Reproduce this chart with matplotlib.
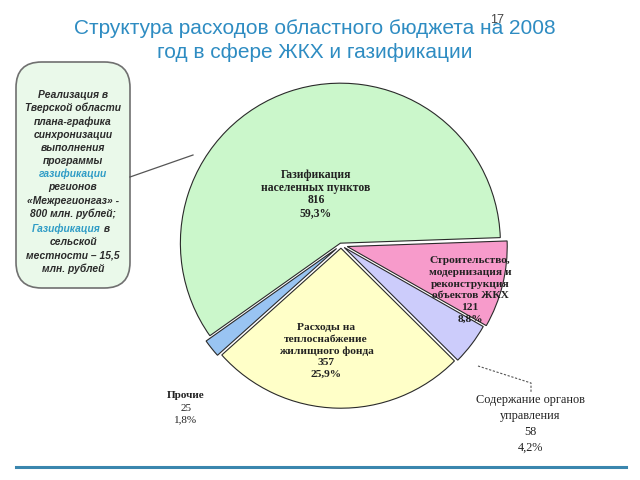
import matplotlib
matplotlib.use("Agg")
import matplotlib.pyplot as plt
from matplotlib.patches import FancyBboxPatch
from matplotlib.lines import Line2D

plt.rcParams["font.family"] = ["Liberation Sans", "DejaVu Sans"]

# budget structure, mln rubles, clockwise from 3 o'clock
categories = [
    "Строительство,\nмодернизация и\nреконструкция\nобъектов ЖКХ",
    "Содержание органов\nуправления",
    "Расходы на\nтеплоснабжение\nжилищного фонда",
    "Прочие",
    "Газификация\nнаселенных пунктов",
]
values = [121, 58, 357, 25, 816]
shares = ["8,8%", "4,2%", "25,9%", "1,8%", "59,3%"]
colors = ["#F79BCB", "#CCCCFB", "#FFFFC8", "#99C4F2", "#CBF7CB"]

W, H = 640, 480
fig = plt.figure(figsize=(6.4, 4.8), dpi=100)


def fx(x):
    return x / W


def fy(y):
    return 1 - y / H


# pie axes: center (341, 245) px, radius ~160 px
cx, cy, half = 341, 245, 200
ax = fig.add_axes([fx(cx - half), fy(cy + half), 2 * half / W, 2 * half / H])
ax.pie(values, colors=colors, startangle=2, counterclock=False,
       explode=[0.04, 0.025, 0.02, 0.035, 0.012], radius=1.0,
       wedgeprops=dict(edgecolor="#2a2a2a", linewidth=0.8))
ax.set_xlim(-1.25, 1.25)
ax.set_ylim(-1.25, 1.25)
ax.set_aspect("equal")
ax.axis("off")

serif = ["Liberation Serif", "DejaVu Serif"]
lab = "#222222"


def slice_label(i, x, y, bold=True, size=8.2, ls=1.2):
    txt = f"{categories[i]}\n{values[i]}\n{shares[i]}"
    fig.text(fx(x), fy(y), txt, ha="center", va="center", family=serif,
             fontsize=size, fontweight="bold" if bold else "normal",
             color=lab, linespacing=ls)


slice_label(4, 316, 194, size=8.4, ls=1.1)
slice_label(0, 470, 290, size=8.2, ls=1.38)
slice_label(2, 326, 351, size=8.2, ls=1.35)
fig.text(fx(186), fy(396), categories[3], ha="center", va="center",
         family=serif, fontsize=8, fontweight="bold", color=lab)
fig.text(fx(186), fy(414), f"{values[3]}\n{shares[3]}", ha="center",
         va="center", family=serif, fontsize=8, color=lab, linespacing=1.3)
slice_label(1, 530, 424, bold=False, size=8.8, ls=1.45)

# leader line for the small lavender slice
fig.add_artist(Line2D([fx(478), fx(531), fx(531)], [fy(366), fy(383), fy(393)],
                      color="#555555", linewidth=0.8, linestyle=(0, (2, 1.5))))

# title
title_col = "#2E8CC2"
fig.text(fx(315), fy(28), "Структура расходов областного бюджета на 2008",
         ha="center", va="center", fontsize=15, color=title_col)
fig.text(fx(315), fy(53), "год в сфере ЖКХ и газификации",
         ha="center", va="center", fontsize=15, color=title_col)
fig.text(fx(497), fy(20), "17", ha="center", va="center", fontsize=9,
         color="#444444")

# callout box on the left
box = FancyBboxPatch((fx(16), fy(288)), fx(114), 226 / H,
                     boxstyle="round,pad=0,rounding_size=0.04",
                     transform=fig.transFigure, facecolor="#EAF9EA",
                     edgecolor="#707070", linewidth=1.2, mutation_aspect=W / H)
fig.add_artist(box)
fig.add_artist(Line2D([fx(130), fx(193)], [fy(177), fy(155)],
                      color="#555555", linewidth=0.9))

box_lines = [
    ("Реализация в", "k"), ("Тверской области", "k"), ("плана-графика", "k"),
    ("синхронизации", "k"), ("выполнения", "k"), ("программы", "k"),
    ("газификации", "#2F9CC6"), ("регионов", "k"),
    ("«Межрегионгаз» -", "k"), ("800 млн. рублей;", "k"),
]
box_kw = dict(ha="center", va="center", fontsize=7.4, fontstyle="italic",
              fontweight="bold")
for k, (s, c) in enumerate(box_lines):
    fig.text(fx(73), fy(95 + k * 13.2), s,
             color="#2a2a2a" if c == "k" else c, **box_kw)

fig.text(fx(32), fy(229), "Газификация", ha="left", va="center",
         color="#2F9CC6", fontsize=7.4, fontstyle="italic", fontweight="bold")
fig.text(fx(101), fy(229), " в", ha="left", va="center",
         color="#2a2a2a", fontsize=7.4, fontstyle="italic", fontweight="bold")
for k, s in enumerate(["сельской", "местности – 15,5", "млн. рублей"]):
    fig.text(fx(73), fy(242 + k * 13.5), s, color="#2a2a2a", **box_kw)

# bottom rule
fig.add_artist(Line2D([fx(16), fx(626)], [fy(467), fy(467)],
                      color="#3A86AE", linewidth=2.2))

fig.savefig("out.png", dpi=100)
